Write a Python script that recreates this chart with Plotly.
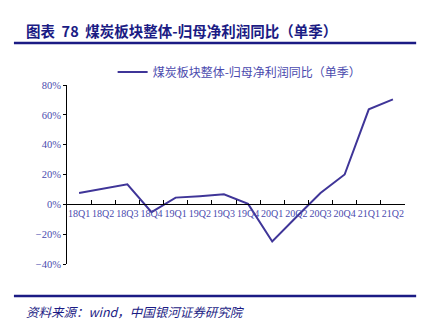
import plotly.graph_objects as go

quarters = ["18Q1", "18Q2", "18Q3", "18Q4", "19Q1", "19Q2", "19Q3",
            "19Q4", "20Q1", "20Q2", "20Q3", "20Q4", "21Q1", "21Q2"]
yoy_growth = [7.6, 10.5, 13.4, -5.2, 4.5, 5.5, 6.7,
              0.3, -24.9, -8.5, 7.6, 20.0, 63.7, 70.4]
y_ticks = [-40, -20, 0, 20, 40, 60, 80]
y_tick_labels = ["−40%", "−20%", "0%", "20%", "40%", "60%", "80%"]

series_name = "煤炭板块整体-归母净利润同比（单季）"
title_text = "图表  78  煤炭板块整体-归母净利润同比（单季）"
source_text = "资料来源：wind，中国银河证券研究院"

line_color = "#3f3598"
tick_color = "#4a4aae"
navy = "#1b1b84"
cjk = "Noto Sans CJK SC"
serif = "'Liberation Serif', 'DejaVu Serif', serif"

fig = go.Figure()
fig.add_trace(go.Scatter(
    x=quarters, y=yoy_growth, mode="lines", name=series_name,
    line=dict(color=line_color, width=2),
))

fig.update_layout(
    width=434, height=334,
    margin=dict(l=67, r=29, t=85, b=70),
    paper_bgcolor="white", plot_bgcolor="white",
    font=dict(family=serif, color=tick_color),
    showlegend=True,
    legend=dict(
        x=0.135, y=1.073, xanchor="left", yanchor="middle",
        orientation="h", itemwidth=30,
        font=dict(family=cjk, size=12, color=tick_color),
        bgcolor="rgba(0,0,0,0)",
    ),
    xaxis=dict(
        type="category", anchor="free", position=1 / 3,
        showline=True, linecolor="black", linewidth=1,
        ticks="inside", ticklen=4, tickcolor="black", tickson="boundaries",
        showgrid=False, zeroline=False, tickangle=0,
        tickfont=dict(family=serif, size=10, color=tick_color),
        range=[-0.5, len(quarters) - 0.5],
    ),
    yaxis=dict(
        range=[-40, 80], tickvals=y_ticks, ticktext=y_tick_labels,
        showline=True, linecolor="black", linewidth=1,
        ticks="outside", ticklen=3, tickcolor="black",
        showgrid=False, zeroline=False,
        tickfont=dict(family=serif, size=10.5, color=tick_color),
    ),
)

# Header, rules and source note
fig.add_annotation(
    text=f"<b>{title_text}</b>", xref="paper", yref="paper",
    x=-0.127, y=1.307, xanchor="left", yanchor="middle", showarrow=False,
    font=dict(family=cjk, size=14.5, color=navy),
)
fig.add_shape(type="line", xref="paper", yref="paper",
              x0=-0.157, x1=1.033, y0=1.235, y1=1.235,
              line=dict(color=navy, width=2.5))
fig.add_shape(type="line", xref="paper", yref="paper",
              x0=-0.157, x1=1.033, y0=-0.179, y1=-0.179,
              line=dict(color=navy, width=2.5))
fig.add_annotation(
    text=f"<i>{source_text}</i>", xref="paper", yref="paper",
    x=-0.127, y=-0.263, xanchor="left", yanchor="middle", showarrow=False,
    font=dict(family=cjk, size=12.5, color=navy),
)

fig.write_html("out.html")
